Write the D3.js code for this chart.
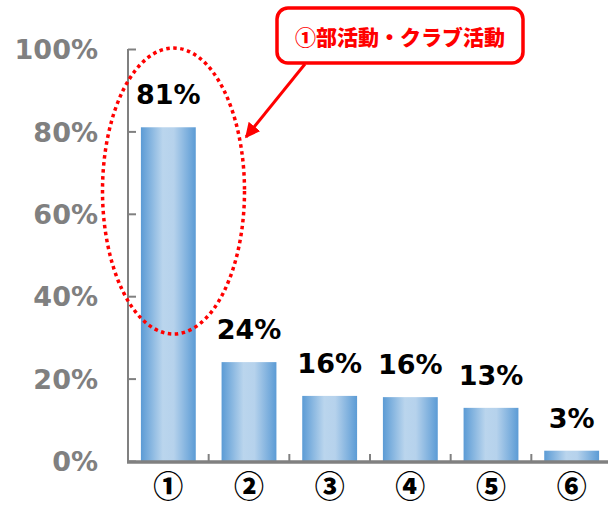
<!DOCTYPE html>
<html><head><meta charset="utf-8">
<script src="https://cdn.jsdelivr.net/npm/d3@7"></script>
<style>html,body{margin:0;padding:0;background:#fff;}svg{display:block;}</style>
</head><body>
<div id="chart"></div>
<script>
const categories = ["①","②","③","④","⑤","⑥"];
const values = [0.81, 0.24, 0.158, 0.155, 0.129, 0.025];
const valueLabels = ["81%","24%","16%","16%","13%","3%"];
const yTicks = [0, 0.2, 0.4, 0.6, 0.8, 1.0];
const calloutText = "①部活動・クラブ活動";

const W = 608, H = 505;
const svg = d3.select("#chart").append("svg").attr("width", W).attr("height", H);
const defs = svg.append("defs");
const grad = defs.append("linearGradient").attr("id","barGrad").attr("x1","0%").attr("x2","100%").attr("y1","0%").attr("y2","0%");
grad.append("stop").attr("offset","0%").attr("stop-color","#5b9bd5");
grad.append("stop").attr("offset","40%").attr("stop-color","#bad5ed");
grad.append("stop").attr("offset","60%").attr("stop-color","#b6d2ec");
grad.append("stop").attr("offset","100%").attr("stop-color","#5b9bd5");

const x0 = 128, x1 = 612, yTop = 49, yBot = 461;
const x = d3.scaleBand().domain(categories).range([x0, x1]).paddingInner(0.32).paddingOuter(0.16);
const y = d3.scaleLinear().domain([0, 1]).range([yBot, yTop]);

// bars
svg.selectAll("rect.bar").data(values).enter().append("rect")
  .attr("class","bar")
  .attr("x",(d,i)=>x(categories[i]))
  .attr("width",x.bandwidth())
  .attr("y",d=>y(d))
  .attr("height",d=>yBot-y(d))
  .attr("fill","url(#barGrad)");

// y axis
const yAxis = d3.axisLeft(y).tickValues(yTicks).tickSize(-8).tickPadding(30).tickFormat(d3.format(".0%"));
const gy = svg.append("g").attr("transform",`translate(${x0},0)`).call(yAxis);
gy.select(".domain").attr("stroke","#808080").attr("stroke-width",2).attr("d",`M0,${yTop}V${yBot}`);
gy.selectAll(".tick line").attr("stroke","#808080").attr("stroke-width",2);
gy.selectAll(".tick text").attr("fill","#808080").attr("font-family","DejaVu Sans, Verdana, sans-serif")
  .attr("font-weight","bold").attr("font-size","27px").attr("dy","0.36em");

// x axis baseline and ticks between categories
const bounds = d3.range(categories.length+1).map(i => x0 + i*(x1-x0)/categories.length);
svg.append("line").attr("x1",x0-1).attr("x2",x1).attr("y1",yBot+1).attr("y2",yBot+1)
  .attr("stroke","#808080").attr("stroke-width",3.5);
svg.selectAll("line.xt").data(bounds).enter().append("line").attr("class","xt")
  .attr("x1",d=>d).attr("x2",d=>d).attr("y1",yBot-7).attr("y2",yBot)
  .attr("stroke","#808080").attr("stroke-width",2);

// category labels
svg.selectAll("text.cat").data(categories).enter().append("text").attr("class","cat")
  .attr("x",d=>x(d)+x.bandwidth()/2).attr("y",497)
  .attr("text-anchor","middle").attr("font-family","Noto Sans CJK JP, sans-serif")
  .attr("font-weight","900").attr("font-size","30px").attr("fill","#000").text(d=>d);

// value labels
svg.selectAll("text.val").data(values).enter().append("text").attr("class","val")
  .attr("x",(d,i)=>x(categories[i])+x.bandwidth()/2).attr("y",d=>y(d)-23)
  .attr("text-anchor","middle").attr("font-family","DejaVu Sans, Verdana, sans-serif")
  .attr("font-weight","bold").attr("font-size","27px").attr("fill","#000").text((d,i)=>valueLabels[i]);

// dotted ellipse
svg.append("ellipse").attr("cx",173.5).attr("cy",191).attr("rx",71).attr("ry",143)
  .attr("fill","none").attr("stroke","#ff0000").attr("stroke-width",3.5).attr("stroke-dasharray","3.5 3.5");

// arrow
defs.append("marker").attr("id","arrow").attr("viewBox","0 0 10 10").attr("refX",9).attr("refY",5)
  .attr("markerWidth",5).attr("markerHeight",5).attr("orient","auto").attr("markerUnits","strokeWidth")
  .append("path").attr("d","M0,0L10,5L0,10z").attr("fill","#ff0000");
svg.append("line").attr("x1",305).attr("y1",64).attr("x2",246).attr("y2",137)
  .attr("stroke","#ff0000").attr("stroke-width",3).attr("marker-end","url(#arrow)");

// callout box
svg.append("rect").attr("x",277).attr("y",8).attr("width",246).attr("height",55).attr("rx",11)
  .attr("fill","#fff").attr("stroke","#ff0000").attr("stroke-width",3.5);
svg.append("text").attr("x",400).attr("y",37).attr("dy","0.36em").attr("text-anchor","middle")
  .attr("font-family","Noto Sans CJK JP, sans-serif").attr("font-weight","900").attr("font-size","21px")
  .attr("fill","#ff0000").text(calloutText);
</script>
</body></html>
